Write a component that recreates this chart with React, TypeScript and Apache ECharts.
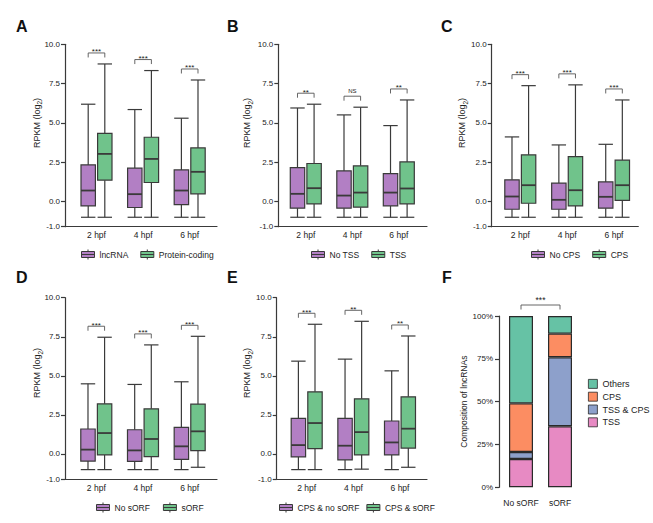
import React, { useEffect, useRef } from 'react';
import * as echarts from 'echarts';

// ---------- data ----------
const hpf = ['2 hpf', '4 hpf', '6 hpf'];
const yTickValues = [-1.6, 0, 2.5, 5, 7.5, 10];

// five-number summaries: [min, q1, median, q3, max] (RPKM log2)
const aLncRNA = [[-1.0, -0.28, 0.7, 2.33, 6.19], [-1.0, -0.38, 0.47, 2.12, 5.85], [-1.0, -0.19, 0.7, 2.01, 5.3]];
const aProteinCoding = [[-1.0, 1.36, 3.03, 4.34, 8.75], [-1.0, 1.21, 2.71, 4.09, 8.33], [-1.0, 0.49, 1.89, 3.41, 7.73]];
const aSig = ['***', '***', '***'];

const bNoTSS = [[-1.0, -0.42, 0.49, 2.16, 5.95], [-1.0, -0.42, 0.38, 1.95, 5.51], [-1.0, -0.28, 0.57, 1.78, 4.83]];
const bTSS = [[-1.0, -0.15, 0.85, 2.42, 6.19], [-1.0, -0.36, 0.57, 2.27, 6.0], [-1.0, -0.15, 0.83, 2.52, 6.46]];
const bSig = ['**', 'NS', '**'];

const cNoCPS = [[-1.0, -0.49, 0.32, 1.38, 4.11], [-1.0, -0.49, 0.11, 1.17, 3.6], [-1.0, -0.42, 0.3, 1.25, 3.64]];
const cCPS = [[-1.0, -0.11, 1.04, 2.97, 7.37], [-1.0, -0.28, 0.72, 2.86, 7.42], [-1.0, 0.08, 1.04, 2.63, 6.46]];
const cSig = ['***', '***', '***'];

const dNoSORF = [[-1.0, -0.45, 0.28, 1.6, 4.49], [-1.0, -0.47, 0.23, 1.55, 4.45], [-1.0, -0.34, 0.49, 1.7, 4.62]];
const dSORF = [[-1.0, -0.06, 1.34, 3.21, 7.47], [-1.0, -0.17, 0.96, 2.89, 6.98], [-0.85, 0.21, 1.45, 3.19, 7.53]];
const dSig = ['***', '***', '***'];

const eCPSNoSORF = [[-1.0, -0.19, 0.57, 2.28, 5.94], [-1.0, -0.38, 0.53, 2.28, 6.07], [-1.0, -0.06, 0.74, 2.11, 5.32]];
const eCPSSORF = [[-1.0, 0.34, 1.98, 3.98, 8.3], [-0.97, -0.06, 1.4, 3.53, 8.49], [-0.85, 0.38, 1.62, 3.66, 7.55]];
const eSig = ['***', '**', '**'];

const fCategories = ['No sORF', 'sORF'];
const fTSS = [16.5, 35.6];
const fTSSCPS = [4.1, 40.3];
const fCPS = [28.4, 13.8];
const fOthers = [51.0, 10.3];
const fSig = '***';

// ---------- styles ----------
const PURPLE = '#b27fc4';
const GREEN = '#70c38b';
const STROKE = '#3a3a3a';
const TEXT = '#222';
const FONT = '"Liberation Sans", Arial, Helvetica, sans-serif';
const SET2 = { others: '#66c2a5', cps: '#fc8d62', tsscps: '#8da0cb', tss: '#e78ac3' };
const BOX_ICON = 'path://M0,2L13,2L13,8L0,8Z M0,5L13,5 M6.5,0L6.5,2 M6.5,8L6.5,10';
const HW = 7.2;
const SHIFT = 8.3;

const panels = [
  { letter: 'A', purple: { name: 'lncRNA', data: aLncRNA }, green: { name: 'Protein-coding', data: aProteinCoding }, sig: aSig,
    grid: { left: 65, top: 44.3, width: 152, height: 182.4 }, xMin: -0.676, xMax: 2.586,
    legend: { left: 76, top: 244, gap: 12 }, nameX: 36.5, nameY: 123, lx: 16, ly: 26 },
  { letter: 'B', purple: { name: 'No TSS', data: bNoTSS }, green: { name: 'TSS', data: bTSS }, sig: bSig,
    grid: { left: 278.3, top: 44.3, width: 148.7, height: 182.4 }, xMin: -0.591, xMax: 2.606,
    legend: { left: 306, top: 244, gap: 12 }, nameX: 247, nameY: 123, lx: 227, ly: 26 },
  { letter: 'C', purple: { name: 'No CPS', data: cNoCPS }, green: { name: 'CPS', data: cCPS }, sig: cSig,
    grid: { left: 491.7, top: 44.3, width: 146.6, height: 182.4 }, xMin: -0.61, xMax: 2.518,
    legend: { left: 526, top: 244, gap: 12 }, nameX: 462, nameY: 123, lx: 441, ly: 26 },
  { letter: 'D', purple: { name: 'No sORF', data: dNoSORF }, green: { name: 'sORF', data: dSORF }, sig: dSig,
    grid: { left: 65, top: 297.7, width: 152, height: 181.3 }, xMin: -0.67, xMax: 2.585,
    legend: { left: 91, top: 497, gap: 13 }, nameX: 37, nameY: 373, lx: 16, ly: 277 },
  { letter: 'E', purple: { name: 'CPS & no sORF', data: eCPSNoSORF }, green: { name: 'CPS & sORF', data: eCPSSORF }, sig: eSig,
    grid: { left: 276.7, top: 297.7, width: 150.3, height: 181.3 }, xMin: -0.643, xMax: 2.579,
    legend: { left: 274, top: 497, gap: 7 }, nameX: 247, nameY: 373, lx: 227, ly: 277 },
];

function boxRenderer(color: string, shift: number) {
  return (_params: any, api: any) => {
    const i = api.value(0);
    const ys = [1, 2, 3, 4, 5].map((k) => api.coord([i, api.value(k)]));
    const cx = ys[0][0] + shift;
    const [yMin, yQ1, yMed, yQ3, yMax] = ys.map((p: number[]) => p[1]);
    const ls = { stroke: STROKE, lineWidth: 1.2 };
    return {
      type: 'group',
      children: [
        { type: 'line', shape: { x1: cx, y1: yMax, x2: cx, y2: yQ3 }, style: ls },
        { type: 'line', shape: { x1: cx, y1: yQ1, x2: cx, y2: yMin }, style: ls },
        { type: 'line', shape: { x1: cx - HW, y1: yMax, x2: cx + HW, y2: yMax }, style: ls },
        { type: 'line', shape: { x1: cx - HW, y1: yMin, x2: cx + HW, y2: yMin }, style: ls },
        { type: 'rect', shape: { x: cx - HW, y: yQ3, width: 2 * HW, height: yQ1 - yQ3 }, style: { fill: color, stroke: STROKE, lineWidth: 1.2 } },
        { type: 'line', shape: { x1: cx - HW, y1: yMed, x2: cx + HW, y2: yMed }, style: { stroke: STROKE, lineWidth: 1.8 } },
      ],
    };
  };
}

function sigRenderer(labels: string[]) {
  return (params: any, api: any) => {
    const p = api.coord([api.value(0), api.value(1)]);
    const y = p[1] - 11;
    const x1 = p[0] - SHIFT;
    const x2 = p[0] + SHIFT;
    const label = labels[params.dataIndex];
    const isNS = label === 'NS';
    return {
      type: 'group',
      children: [
        { type: 'polyline', shape: { points: [[x1, y + 4.5], [x1, y], [x2, y], [x2, y + 4.5]] }, style: { stroke: '#555', lineWidth: 0.9, fill: 'none' } },
        { type: 'text', x: p[0], y: isNS ? y - 5 : y - 1, style: { text: label, align: 'center', verticalAlign: 'middle', fontSize: isNS ? 6 : 8, fill: TEXT, fontFamily: FONT } },
      ],
    };
  };
}

function buildOption() {
  const grid: any[] = [];
  const xAxis: any[] = [];
  const yAxis: any[] = [];
  const series: any[] = [];
  const legend: any[] = [];
  const graphic: any[] = [];
  const axisLine = { show: true, onZero: false, lineStyle: { color: STROKE, width: 1.2 } };

  panels.forEach((pn, k) => {
    grid.push({ ...pn.grid, containLabel: false });
    xAxis.push({
      gridIndex: k, type: 'value', min: pn.xMin, max: pn.xMax,
      axisLine, axisTick: { show: false }, splitLine: { show: false },
      axisLabel: { customValues: [0, 1, 2], formatter: (v: number) => hpf[Math.round(v)], fontSize: 8.5, color: TEXT, margin: 4, fontFamily: FONT },
    });
    yAxis.push({
      gridIndex: k, type: 'value', min: -1.6, max: 10,
      axisLine, splitLine: { show: false },
      axisTick: { show: true, length: 4, customValues: yTickValues, lineStyle: { color: STROKE, width: 1.2 } },
      axisLabel: { customValues: yTickValues, showMinLabel: true, showMaxLabel: true, formatter: (v: number) => (v < -1.2 ? '-1.0' : v.toFixed(1)), fontSize: 8, color: TEXT, margin: 5, fontFamily: FONT },
    });
    series.push({
      type: 'custom', name: pn.purple.name, xAxisIndex: k, yAxisIndex: k, itemStyle: { color: PURPLE },
      encode: { x: 0, y: [1, 2, 3, 4, 5] },
      data: pn.purple.data.map((d, i) => [i, ...d]),
      renderItem: boxRenderer(PURPLE, -SHIFT),
    });
    series.push({
      type: 'custom', name: pn.green.name, xAxisIndex: k, yAxisIndex: k, itemStyle: { color: GREEN },
      encode: { x: 0, y: [1, 2, 3, 4, 5] },
      data: pn.green.data.map((d, i) => [i, ...d]),
      renderItem: boxRenderer(GREEN, SHIFT),
    });
    series.push({
      type: 'custom', name: 'sig' + pn.letter, xAxisIndex: k, yAxisIndex: k, z: 5,
      encode: { x: 0, y: 1 },
      data: pn.sig.map((_s, i) => [i, Math.max(pn.purple.data[i][4], pn.green.data[i][4])]),
      renderItem: sigRenderer(pn.sig),
    });
    legend.push({
      left: pn.legend.left, top: pn.legend.top, itemWidth: 13, itemHeight: 10, itemGap: pn.legend.gap,
      selectedMode: false,
      textStyle: { fontSize: 8.5, color: TEXT, fontFamily: FONT },
      data: [
        { name: pn.purple.name, icon: BOX_ICON, itemStyle: { color: PURPLE, borderColor: STROKE, borderWidth: 1 } },
        { name: pn.green.name, icon: BOX_ICON, itemStyle: { color: GREEN, borderColor: STROKE, borderWidth: 1 } },
      ],
    });
    graphic.push({
      type: 'text', x: pn.lx, y: pn.ly,
      style: { text: pn.letter, fontSize: 16, fontWeight: 'bold', fill: '#111', fontFamily: FONT, align: 'left', verticalAlign: 'middle' },
    });
    graphic.push({
      type: 'text', x: pn.nameX, y: pn.nameY, rotation: Math.PI / 2,
      style: {
        text: '{a|RPKM (log}{b|2}{a|)}', align: 'center', verticalAlign: 'middle',
        rich: {
          a: { fontSize: 9, lineHeight: 13, verticalAlign: 'middle', fill: TEXT, fontFamily: FONT },
          b: { fontSize: 6.5, lineHeight: 13, verticalAlign: 'bottom', fill: TEXT, fontFamily: FONT },
        },
      },
    });
  });

  // Panel F
  const fk = panels.length;
  grid.push({ left: 501.5, top: 316, width: 78, height: 171.3 });
  xAxis.push({
    gridIndex: fk, type: 'category', data: fCategories,
    axisLine: { show: false }, axisTick: { show: false },
    axisLabel: { interval: 0, fontSize: 8.5, color: TEXT, margin: 11, fontFamily: FONT },
  });
  yAxis.push({
    gridIndex: fk, type: 'value', min: 0, max: 100, interval: 25, offset: 2.5,
    name: 'Composition of lncRNAs', nameLocation: 'middle', nameGap: 28,
    nameTextStyle: { fontSize: 8.5, color: TEXT, fontFamily: FONT },
    axisLine: { show: true, lineStyle: { color: STROKE, width: 1.2 } },
    axisTick: { show: true, length: 4, lineStyle: { color: STROKE, width: 1.2 } },
    splitLine: { show: false },
    axisLabel: { formatter: '{value}%', fontSize: 8, color: TEXT, margin: 6, fontFamily: FONT },
  });
  const fStacks = [
    { name: 'TSS', data: fTSS, color: SET2.tss },
    { name: 'TSS & CPS', data: fTSSCPS, color: SET2.tsscps },
    { name: 'CPS', data: fCPS, color: SET2.cps },
    { name: 'Others', data: fOthers, color: SET2.others },
  ];
  fStacks.forEach((s) => {
    series.push({
      type: 'bar', name: s.name, stack: 'f', xAxisIndex: fk, yAxisIndex: fk, barWidth: 24,
      data: s.data, itemStyle: { color: s.color, borderColor: '#2a2a2a', borderWidth: 1.2 },
    });
  });
  series.push({
    type: 'custom', name: 'sigF', xAxisIndex: fk, yAxisIndex: fk, z: 5,
    encode: { x: 0, y: 1 },
    data: [[0, 100, 1]],
    renderItem: (_params: any, api: any) => {
      const p0 = api.coord([api.value(0), api.value(1)]);
      const p1 = api.coord([api.value(2), api.value(1)]);
      const y = p0[1] - 11;
      return {
        type: 'group',
        children: [
          { type: 'polyline', shape: { points: [[p0[0], y + 4.5], [p0[0], y], [p1[0], y], [p1[0], y + 4.5]] }, style: { stroke: '#555', lineWidth: 0.9, fill: 'none' } },
          { type: 'text', x: (p0[0] + p1[0]) / 2, y: y - 5, style: { text: fSig, align: 'center', verticalAlign: 'middle', fontSize: 8.5, fill: TEXT, fontFamily: FONT } },
        ],
      };
    },
  });
  legend.push({
    orient: 'vertical', left: 583, top: 374, itemWidth: 9, itemHeight: 9, itemGap: 3, selectedMode: false,
    textStyle: { fontSize: 9, color: TEXT, fontFamily: FONT },
    data: ['Others', 'CPS', 'TSS & CPS', 'TSS'].map((n) => {
      const s = fStacks.find((x) => x.name === n)!;
      return { name: n, icon: 'rect', itemStyle: { color: s.color, borderColor: '#2a2a2a', borderWidth: 0.8 } };
    }),
  });
  graphic.push({
    type: 'text', x: 442, y: 277,
    style: { text: 'F', fontSize: 16, fontWeight: 'bold', fill: '#111', fontFamily: FONT, align: 'left', verticalAlign: 'middle' },
  });

  return {
    animation: false,
    backgroundColor: '#ffffff',
    textStyle: { fontFamily: FONT },
    grid, xAxis, yAxis, series, legend, graphic,
  };
}

export default function App() {
  const ref = useRef<HTMLDivElement>(null);
  useEffect(() => {
    if (!ref.current) return;
    const chart = echarts.init(ref.current, undefined, { renderer: 'svg' });
    chart.setOption(buildOption() as any);
    return () => chart.dispose();
  }, []);
  return <div ref={ref} style={{ position: 'fixed', left: 0, top: 0, width: 653, height: 523, background: '#fff' }} />;
}
